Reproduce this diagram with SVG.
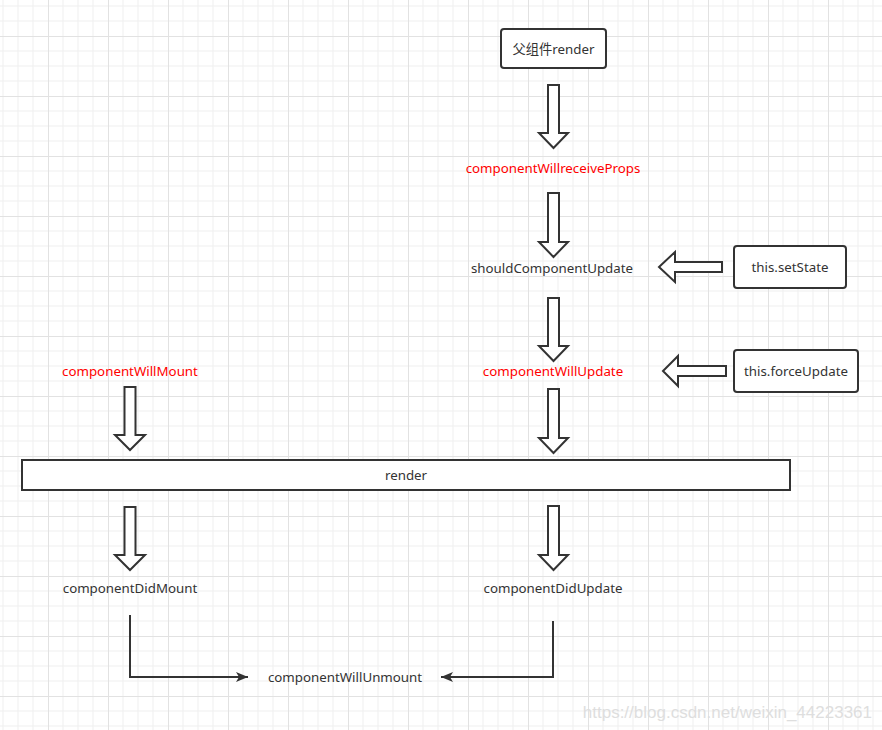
<svg xmlns="http://www.w3.org/2000/svg" width="882" height="730" viewBox="0 0 882 730">
<defs>
<pattern id="grid" x="48" y="36" width="60" height="60" patternUnits="userSpaceOnUse">
<path d="M15 0V60M30 0V60M45 0V60M0 15H60M0 30H60M0 45H60" stroke="#efefef" stroke-width="1" fill="none"/>
<path d="M0.5 0V60M0 0.5H60" stroke="#e2e2e2" stroke-width="1" fill="none"/>
</pattern>
<marker id="ah" viewBox="0 0 12 10" refX="12" refY="5" markerWidth="12" markerHeight="10" markerUnits="userSpaceOnUse" orient="auto">
<path d="M0 0L12 5L0 10L3 5Z" fill="#333"/>
</marker>
</defs>
<style>
.box{fill:#fff;stroke:#333;stroke-width:2}
.blk{fill:#fff;stroke:#333;stroke-width:2;stroke-linejoin:miter}
.t{font-family:"Noto Sans","Open Sans",sans-serif;font-size:13.3px;fill:#333;text-anchor:middle;dominant-baseline:central}
.r{fill:#ff0000}
.wire{fill:none;stroke:#333;stroke-width:2}
</style>
<rect width="882" height="730" fill="#fff"/>
<rect width="882" height="730" fill="url(#grid)"/>

<g id="connectors">
<path class="blk" d="M548 85H559V133H568L553.5 148L539 133H548Z"/>
<path class="blk" d="M548 193H559V242H568L553.5 257L539 242H548Z"/>
<path class="blk" d="M548 298H559V346H568L553.5 361L539 346H548Z"/>
<path class="blk" d="M548 389H559V438H568L553.5 453L539 438H548Z"/>
<path class="blk" d="M548 506H559V555H568L553.5 570L539 555H548Z"/>
<path class="blk" d="M124.5 387H135.5V435H145L130 450L115 435H124.5Z"/>
<path class="blk" d="M124.5 507H135.5V555H145L130 570L115 555H124.5Z"/>
<path class="blk" d="M722 262V272H675V282L659 267L675 252V262Z"/>
<path class="blk" d="M726 366V376H678V386L663 371L678 356V366Z"/>
<path class="wire" d="M130 615V677H248" marker-end="url(#ah)"/>
<path class="wire" d="M553 621V677H441" marker-end="url(#ah)"/>
</g>

<g id="parent-render"><rect class="box" x="501" y="29" width="105" height="39" rx="3"/><text class="t" x="553.5" y="48.5" style="font-family:'Noto Sans','Noto Sans CJK SC',sans-serif">父组件render</text></g>
<g id="cwrp"><text class="t r" x="553" y="168">componentWillreceiveProps</text></g>
<g id="scu"><text class="t" x="552" y="268">shouldComponentUpdate</text></g>
<g id="setstate"><rect class="box" x="734" y="246" width="112" height="42" rx="3"/><text class="t" x="790" y="267">this.setState</text></g>
<g id="cwm"><text class="t r" x="130" y="371">componentWillMount</text></g>
<g id="cwu"><text class="t r" x="553" y="371">componentWillUpdate</text></g>
<g id="forceupdate"><rect class="box" x="734" y="350" width="124" height="42" rx="3"/><text class="t" x="796" y="371">this.forceUpdate</text></g>
<g id="render"><rect class="box" x="22" y="460" width="768" height="30"/><text class="t" x="406" y="475">render</text></g>
<g id="cdm"><text class="t" x="130" y="588">componentDidMount</text></g>
<g id="cdu"><text class="t" x="553" y="588">componentDidUpdate</text></g>
<g id="cwun"><text class="t" x="345" y="677">componentWillUnmount</text></g>
<text x="872" y="718" style="font-family:'Liberation Sans',sans-serif;font-size:17px;fill:#dedede;text-anchor:end">https://blog.csdn.net/weixin_44223361</text>
</svg>
